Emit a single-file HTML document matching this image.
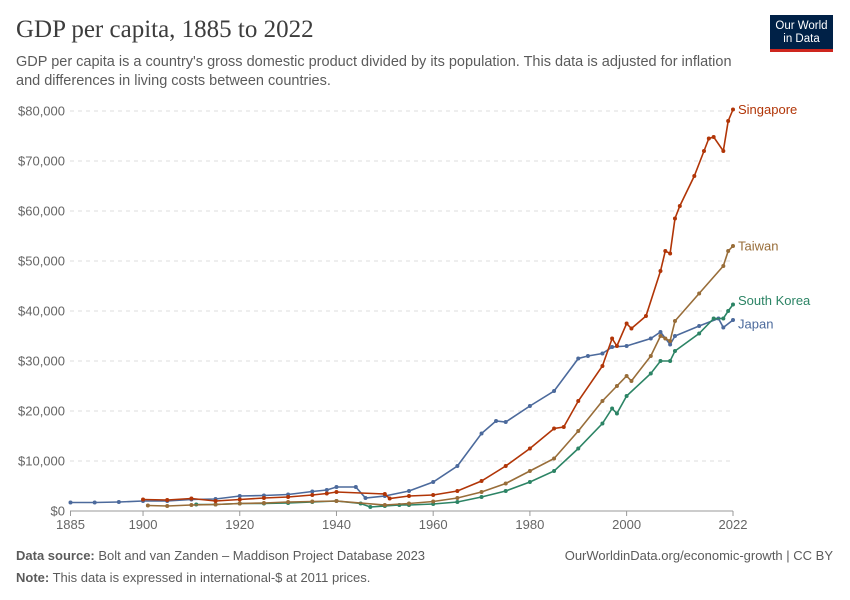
<!DOCTYPE html>
<html><head><meta charset="utf-8"><style>
body{margin:0;background:#fff;font-family:"Liberation Sans",sans-serif;}
#wrap{position:relative;width:850px;height:600px;overflow:hidden;}
.t{position:absolute;white-space:nowrap;}
</style></head><body>
<div id="wrap">
<div class="t" style="left:16px;top:16px;font-family:'Liberation Serif',serif;font-size:25px;color:#3d3d3d;">GDP per capita, 1885 to 2022</div>
<div class="t" style="left:16px;top:53px;font-size:14.5px;line-height:19px;color:#5b5b5b;white-space:normal;width:735px;">GDP per capita is a country's gross domestic product divided by its population. This data is adjusted for inflation and differences in living costs between countries.</div>
<div style="position:absolute;left:770px;top:15px;width:63px;height:37px;background:#002147;border-bottom:3px solid #ce261e;color:#fff;font-size:11.5px;line-height:13px;text-align:center;padding-top:5px;box-sizing:border-box;">Our World<br>in Data</div>
<svg id="chart" width="850" height="600" style="position:absolute;left:0;top:0;"></svg>
<div class="t" style="left:16px;top:548px;font-size:13px;color:#5b5b5b;"><b>Data source:</b> Bolt and van Zanden – Maddison Project Database 2023</div>
<div class="t" style="right:17px;top:548px;font-size:13px;color:#5b5b5b;">OurWorldinData.org/economic-growth | CC BY</div>
<div class="t" style="left:16px;top:570px;font-size:13px;color:#5b5b5b;"><b>Note:</b> This data is expressed in international-$ at 2011 prices.</div>
</div>
<script>
const yTicks=[0,10000,20000,30000,40000,50000,60000,70000,80000];
const xTicks=[1885,1900,1920,1940,1960,1980,2000,2022];
const japanYears=[1885,1890,1895,1900,1905,1910,1915,1920,1925,1930,1935,1938,1940,1944,1946,1950,1955,1960,1965,1970,1973,1975,1980,1985,1990,1992,1995,1997,2000,2005,2007,2009,2010,2015,2019,2020,2022];
const japanVals=[1.7,1.7,1.8,2.0,2.0,2.3,2.4,3.0,3.1,3.3,3.9,4.2,4.8,4.8,2.6,3.0,4.0,5.8,9.0,15.5,18.0,17.8,21,24,30.5,31,31.5,32.8,33.0,34.5,35.8,33.3,35,37,38.5,36.7,38.2];
const singYears=[1900,1905,1910,1915,1920,1925,1930,1935,1938,1940,1950,1951,1955,1960,1965,1970,1975,1980,1985,1987,1990,1995,1997,1998,2000,2001,2004,2007,2008,2009,2010,2011,2014,2016,2017,2018,2020,2021,2022];
const singVals=[2.3,2.2,2.5,2.0,2.3,2.6,2.8,3.2,3.5,3.8,3.4,2.5,3.0,3.2,4.0,6.0,9.0,12.5,16.5,16.8,22,29,34.5,33,37.5,36.5,39,48,52,51.5,58.5,61,67,72,74.5,74.8,72,78,80.3];
const taiYears=[1901,1905,1910,1915,1920,1925,1930,1935,1940,1950,1955,1960,1965,1970,1975,1980,1985,1990,1995,1998,2000,2001,2005,2007,2008,2009,2010,2015,2020,2021,2022];
const taiVals=[1.1,1.0,1.2,1.3,1.5,1.6,1.8,1.9,2.0,1.2,1.5,1.9,2.6,3.8,5.5,8.0,10.5,16.0,22,25,27,26,31,35,34.5,34,38,43.5,49,52,53];
const korYears=[1911,1915,1920,1925,1930,1935,1940,1945,1947,1950,1953,1955,1960,1965,1970,1975,1980,1985,1990,1995,1997,1998,2000,2005,2007,2009,2010,2015,2018,2020,2021,2022];
const korVals=[1.3,1.3,1.5,1.5,1.6,1.8,2.0,1.5,0.8,1.0,1.2,1.2,1.4,1.8,2.8,4.0,5.8,8,12.5,17.5,20.5,19.5,23,27.5,30,30,32,35.5,38.5,38.5,40,41.3];
const x=y=>70.5+(y-1885)*(733-70.5)/(2022-1885);
const yv=v=>511-v*400/80000;
const svg=document.getElementById('chart');
const NS='http://www.w3.org/2000/svg';
function mk(tag,a){const e=document.createElementNS(NS,tag);for(const k in a)e.setAttribute(k,a[k]);svg.appendChild(e);return e;}
yTicks.forEach(t=>{
 if(t>0){const g=mk('line',{x1:70,x2:733,y1:yv(t),y2:yv(t),stroke:'#ddd','stroke-dasharray':'4,4'});
 
 }
 const l=mk('text',{x:65,y:yv(t)+4.5,'text-anchor':'end','font-size':13,fill:'#666','font-family':'Liberation Sans'});
 l.textContent='$'+t.toLocaleString('en-US');
 
 
});
const ax=mk('line',{x1:70,x2:733,y1:511,y2:511,stroke:'#999'});


xTicks.forEach(t=>{
 const tk=mk('line',{x1:x(t),x2:x(t),y1:511,y2:516,stroke:'#999'});
 
 
 const l=mk('text',{x:x(t),y:529,'text-anchor':'middle','font-size':13,fill:'#666','font-family':'Liberation Sans'});
 l.textContent=t;
 
 
});
const series=[
 ['japan',japanYears,japanVals,'#4c6a9c','Japan',4],
 ['south-korea',korYears,korVals,'#2c8465','South Korea',-4],
 ['taiwan',taiYears,taiVals,'#986d39','Taiwan',0],
 ['singapore',singYears,singVals,'#b13507','Singapore',0]];
series.forEach(([n,ys,vs,c,lab,dy])=>{
 const pts=ys.map((y,i)=>x(y).toFixed(1)+','+yv(vs[i]*1000).toFixed(1)).join(' ');
 const p=mk('polyline',{points:pts,fill:'none',stroke:c,'stroke-width':1.6});
 
 
 ys.forEach((y,i)=>{
  const d=mk('circle',{cx:x(y),cy:yv(vs[i]*1000),r:2,fill:c});
  
  
 });
 const last=vs.length-1;
 const t=mk('text',{x:738,y:yv(vs[last]*1000)+4.5+dy,'font-size':13,fill:c,'font-family':'Liberation Sans'});
 t.textContent=lab;
 
 
});
</script>
</body></html>
